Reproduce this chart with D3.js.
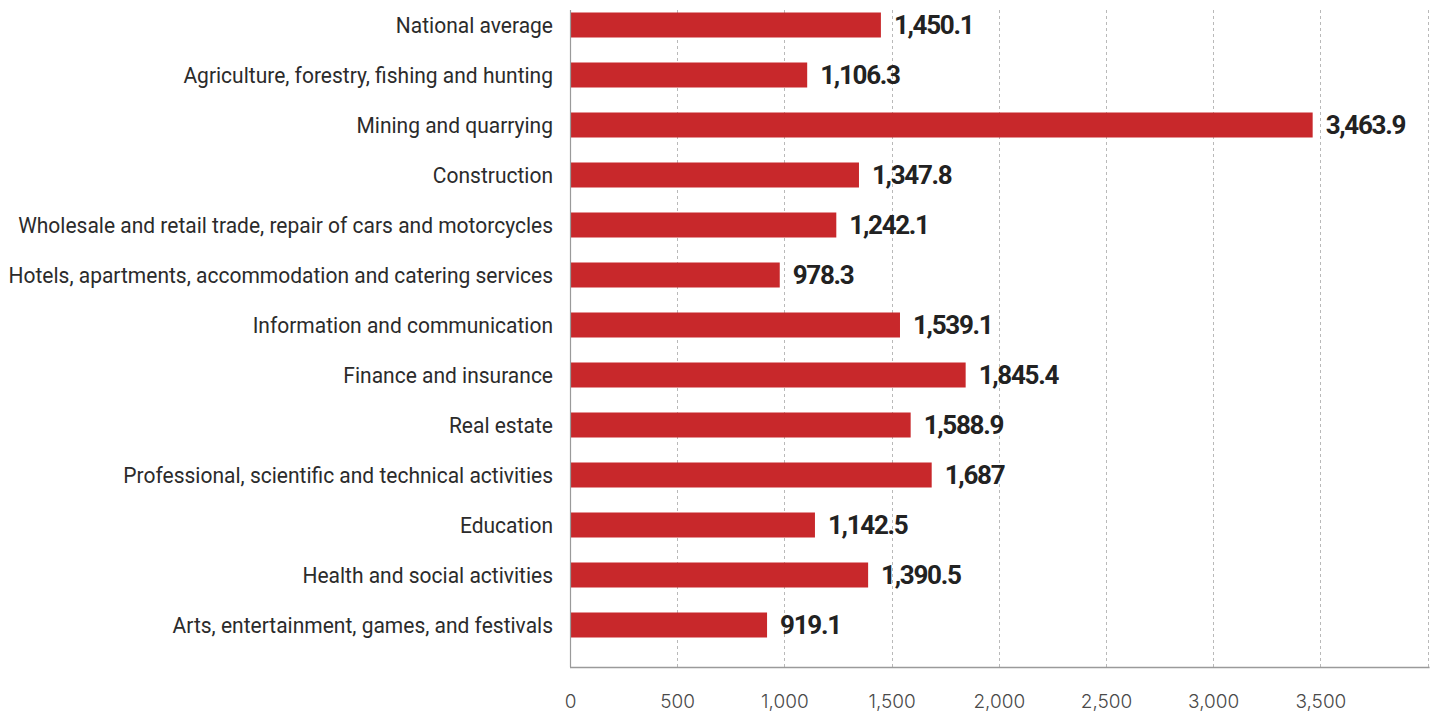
<!DOCTYPE html>
<html>
<head>
<meta charset="utf-8">
<script src="https://cdn.jsdelivr.net/npm/d3@7/dist/d3.min.js"></script>
<style>
  html, body { margin: 0; padding: 0; background: #fff; }
  svg { display: block; }
</style>
</head>
<body>
<svg id="chart" width="1438" height="714"></svg>
<script>
// Average monthly wage by economic activity
const categories = [
  "National average",
  "Agriculture, forestry, fishing and hunting",
  "Mining and quarrying",
  "Construction",
  "Wholesale and retail trade, repair of cars and motorcycles",
  "Hotels, apartments, accommodation and catering services",
  "Information and communication",
  "Finance and insurance",
  "Real estate",
  "Professional, scientific and technical activities",
  "Education",
  "Health and social activities",
  "Arts, entertainment, games, and festivals"
];
const values = [1450.1, 1106.3, 3463.9, 1347.8, 1242.1, 978.3, 1539.1, 1845.4, 1588.9, 1687, 1142.5, 1390.5, 919.1];
const valueLabels = ["1,450.1", "1,106.3", "3,463.9", "1,347.8", "1,242.1", "978.3", "1,539.1", "1,845.4", "1,588.9", "1,687", "1,142.5", "1,390.5", "919.1"];
const tickValues = [0, 500, 1000, 1500, 2000, 2500, 3000, 3500];
const gridValues = [500, 1000, 1500, 2000, 2500, 3000, 3500, 4000];

const svg = d3.select("#chart");
const plotLeft = 570, plotRight = 1427.6, plotTop = 0, plotBottom = 650, axisY = 667, gridTop = 10;

const x = d3.scaleLinear().domain([0, 4000]).range([plotLeft, plotRight]);
const y = d3.scaleBand().domain(categories).range([plotTop, plotBottom])
  .paddingInner(0.5).paddingOuter(0.25);

// dashed vertical gridlines
svg.append("g").selectAll("line").data(gridValues).join("line")
  .attr("x1", d => Math.round(x(d)) + 0.5).attr("x2", d => Math.round(x(d)) + 0.5)
  .attr("y1", gridTop).attr("y2", axisY)
  .attr("stroke", "#b9b9b9").attr("stroke-width", 1)
  .attr("stroke-dasharray", "3,3");

// bars
svg.append("g").selectAll("rect").data(values).join("rect")
  .attr("x", x(0))
  .attr("y", (d, i) => y(categories[i]))
  .attr("width", d => x(d) - x(0))
  .attr("height", y.bandwidth())
  .attr("fill", "#c8282b");

// left axis line
svg.append("line").attr("x1", plotLeft + 0.5).attr("x2", plotLeft + 0.5)
  .attr("y1", gridTop).attr("y2", axisY).attr("stroke", "#9a9a9a").attr("stroke-width", 1.2);

// bottom axis
const xAxis = d3.axisBottom(x).tickValues(tickValues)
  .tickFormat(d3.format(",")).tickSize(0).tickPadding(28);
const gx = svg.append("g").attr("transform", `translate(0,${axisY})`).call(xAxis);
gx.select(".domain").attr("stroke", "#9a9a9a").attr("stroke-width", 1.5)
  .attr("d", `M${plotLeft},0.5H${plotRight + 2}`);
gx.selectAll("text")
  .attr("font-family", "Inter, 'Noto Sans', sans-serif")
  .attr("font-size", 19).attr("font-weight", 300)
  .attr("fill", "#4a4a4a");

// category labels, narrowed to a condensed width
const catG = svg.append("g");
const cats = catG.selectAll("text").data(categories).join("text")
  .attr("x", 0)
  .attr("y", d => y(d) + y.bandwidth() / 2)
  .attr("dy", "0.35em")
  .attr("text-anchor", "end")
  .attr("font-family", "Roboto, sans-serif")
  .attr("font-size", 22.5)
  .attr("fill", "#2b2b2b")
  .text(d => d);
let widest = 0;
cats.each(function () { widest = Math.max(widest, this.getComputedTextLength()); });
const sx = 545 / widest;
catG.attr("transform", `translate(553,0) scale(${sx},1)`);

// value labels
svg.append("g").selectAll("text").data(values).join("text")
  .attr("x", d => x(d) + 13)
  .attr("y", (d, i) => y(categories[i]) + y.bandwidth() / 2)
  .attr("dy", "0.36em")
  .attr("font-family", "Roboto, sans-serif")
  .attr("font-size", 26).attr("font-weight", 700)
  .attr("letter-spacing", "-1.3px")
  .attr("fill", "#222")
  .text((d, i) => valueLabels[i]);
</script>
</body>
</html>
